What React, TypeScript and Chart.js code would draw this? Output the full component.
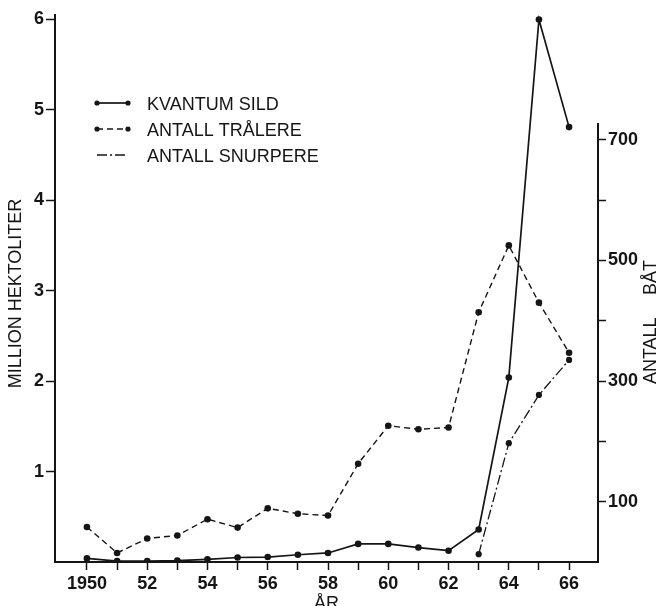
import { useEffect, useRef } from 'react';
import { Chart, registerables } from 'chart.js';

Chart.register(...registerables);

// ---- data ----
const YEARS = [1950, 1951, 1952, 1953, 1954, 1955, 1956, 1957, 1958, 1959, 1960, 1961, 1962, 1963, 1964, 1965, 1966];
const KVANTUM_SILD = [0.04, 0.01, 0.01, 0.015, 0.03, 0.05, 0.055, 0.08, 0.1, 0.2, 0.2, 0.16, 0.125, 0.36, 2.04, 6.0, 4.81];
const ANTALL_TRALERE = [58, 15, 39, 44, 71, 57, 89, 80, 77, 163, 226, 220, 223, 414, 525, 430, 347];
const SNURPERE_YEARS = [1963, 1964, 1965, 1966];
const ANTALL_SNURPERE = [13, 197, 277, 335];

const LEFT_TICKS = [1, 2, 3, 4, 5, 6];
const RIGHT_TICKS = [100, 200, 300, 400, 500, 600, 700];
const RIGHT_LABELS = [100, 300, 500, 700];
const X_LABEL_YEARS = [1950, 1952, 1954, 1956, 1958, 1960, 1962, 1964, 1966];

const SERIES_NAMES = ['KVANTUM SILD', 'ANTALL TRÅLERE', 'ANTALL SNURPERE'];
const LEFT_TITLE = 'MILLION HEKTOLITER';
const RIGHT_TITLE_WORDS = ['ANTALL', 'BÅT'];
const X_TITLE = 'ÅR';

const X_MIN = 1948.94;
const X_MAX = 1966.96;
const LEFT_MAX = 6.05;
const RIGHT_MAX = 907;
const RIGHT_AXIS_TOP = 728;

const INK = '#151515';
const FONT_FAMILY = '"Liberation Sans", Arial, sans-serif';
const TICK_FONT_FAMILY = '"Liberation Sans Narrow", "Arial Narrow", "Liberation Sans", sans-serif';

const DASHES: number[][] = [[], [6, 4], [10, 3, 2, 3]];
const WIDTHS = [1.7, 1.4, 1.3];

const overlay = {
  id: 'overlay',
  afterDraw(chart: any) {
    const { ctx, chartArea, scales } = chart;
    const y2 = scales.y2;
    const y = scales.y;
    const x = scales.x;
    ctx.save();
    // right axis line (only up to its top value)
    ctx.strokeStyle = INK;
    ctx.lineWidth = 2;
    ctx.setLineDash([]);
    ctx.beginPath();
    ctx.moveTo(y2.left, y2.getPixelForValue(0));
    ctx.lineTo(y2.left, y2.getPixelForValue(RIGHT_AXIS_TOP));
    ctx.stroke();

    // legend
    const lx0 = chartArea.left + 42;
    const lx1 = chartArea.left + 73;
    const tx = chartArea.left + 92;
    ctx.font = `18px ${FONT_FAMILY}`;
    ctx.fillStyle = INK;
    ctx.textBaseline = 'middle';
    ctx.textAlign = 'left';
    SERIES_NAMES.forEach((name, i) => {
      const ry = chartArea.top + 88 + i * 26;
      ctx.lineWidth = WIDTHS[i];
      ctx.setLineDash(DASHES[i]);
      ctx.beginPath();
      ctx.moveTo(lx0, ry);
      ctx.lineTo(lx1, ry);
      ctx.stroke();
      ctx.setLineDash([]);
      if (i < 2) {
        [lx0, lx1].forEach((px) => {
          ctx.beginPath();
          ctx.arc(px, ry, 2.6, 0, Math.PI * 2);
          ctx.fill();
        });
      }
      ctx.fillText(name, tx, ry + 2);
    });

    // left title
    ctx.save();
    ctx.translate(y.left + 16, (chartArea.top + chartArea.bottom) / 2 + 5);
    ctx.rotate(-Math.PI / 2);
    ctx.textAlign = 'center';
    ctx.textBaseline = 'middle';
    ctx.fillText(LEFT_TITLE, 0, 0);
    ctx.restore();

    // right title
    ctx.save();
    ctx.translate(y2.left + 53, y2.getPixelForValue(300) + 3);
    ctx.rotate(-Math.PI / 2);
    ctx.textAlign = 'left';
    ctx.textBaseline = 'middle';
    ctx.fillText(RIGHT_TITLE_WORDS[0], 0, 0);
    ctx.fillText(RIGHT_TITLE_WORDS[1], 89, 0);
    ctx.restore();

    // x title
    ctx.textAlign = 'center';
    ctx.textBaseline = 'alphabetic';
    ctx.fillText(X_TITLE, (chartArea.left + chartArea.right) / 2, x.bottom + 3);
    ctx.restore();
  },
};

export default function App() {
  const ref = useRef<HTMLCanvasElement>(null);

  useEffect(() => {
    const tickFont = { family: TICK_FONT_FAMILY, size: 18, weight: 'bold' as const };
    const chart = new Chart(ref.current as HTMLCanvasElement, {
      type: 'line',
      data: {
        datasets: [
          {
            label: SERIES_NAMES[0],
            data: YEARS.map((yr, i) => ({ x: yr, y: KVANTUM_SILD[i] })),
            yAxisID: 'y',
            borderColor: INK,
            backgroundColor: INK,
            borderWidth: WIDTHS[0],
            pointRadius: 3.3,
            pointBorderWidth: 0,
            tension: 0,
          },
          {
            label: SERIES_NAMES[1],
            data: YEARS.map((yr, i) => ({ x: yr, y: ANTALL_TRALERE[i] })),
            yAxisID: 'y2',
            borderColor: INK,
            backgroundColor: INK,
            borderWidth: WIDTHS[1],
            borderDash: DASHES[1],
            pointRadius: 3.3,
            pointBorderWidth: 0,
            tension: 0,
          },
          {
            label: SERIES_NAMES[2],
            data: SNURPERE_YEARS.map((yr, i) => ({ x: yr, y: ANTALL_SNURPERE[i] })),
            yAxisID: 'y2',
            borderColor: INK,
            backgroundColor: INK,
            borderWidth: WIDTHS[2],
            borderDash: DASHES[2],
            pointRadius: 3.1,
            pointBorderWidth: 0,
            tension: 0,
          },
        ],
      },
      options: {
        animation: false,
        responsive: true,
        maintainAspectRatio: false,
        layout: { padding: { top: 15, left: 0, right: 0, bottom: 0 } },
        plugins: {
          legend: { display: false },
          tooltip: { enabled: false },
        },
        scales: {
          x: {
            type: 'linear',
            min: X_MIN,
            max: X_MAX,
            afterBuildTicks: (s: any) => {
              s.ticks = YEARS.map((v) => ({ value: v }));
            },
            afterFit: (s: any) => {
              s.height = 44;
            },
            ticks: {
              autoSkip: false,
              maxRotation: 0,
              padding: 3,
              color: INK,
              font: tickFont,
              callback: (v: any) => {
                const n = Number(v);
                if (!X_LABEL_YEARS.includes(n)) return '';
                return n === X_LABEL_YEARS[0] ? String(n) : String(n % 100);
              },
            },
            grid: {
              display: true,
              drawOnChartArea: false,
              drawTicks: true,
              tickLength: 8,
              tickColor: INK,
              tickWidth: 1.5,
              color: INK,
            },
            border: { display: true, color: INK, width: 2 },
          },
          y: {
            type: 'linear',
            position: 'left',
            min: 0,
            max: LEFT_MAX,
            afterBuildTicks: (s: any) => {
              s.ticks = LEFT_TICKS.map((v) => ({ value: v }));
            },
            afterFit: (s: any) => {
              s.width = 55;
            },
            ticks: {
              padding: 2,
              color: INK,
              font: tickFont,
              callback: (v: any) => String(v),
            },
            grid: {
              display: true,
              drawOnChartArea: false,
              drawTicks: true,
              tickLength: 9,
              tickColor: INK,
              tickWidth: 1.5,
              color: INK,
            },
            border: { display: true, color: INK, width: 2 },
          },
          y2: {
            type: 'linear',
            position: 'right',
            min: 0,
            max: RIGHT_MAX,
            afterBuildTicks: (s: any) => {
              s.ticks = RIGHT_TICKS.map((v) => ({ value: v }));
            },
            afterFit: (s: any) => {
              s.width = 59;
            },
            ticks: {
              padding: 2,
              color: INK,
              font: tickFont,
              callback: (v: any) => (RIGHT_LABELS.includes(Number(v)) ? String(v) : ''),
            },
            grid: {
              display: true,
              drawOnChartArea: false,
              drawTicks: true,
              tickLength: 8,
              tickColor: INK,
              tickWidth: 1.5,
              color: INK,
            },
            border: { display: false },
          },
        },
      },
      plugins: [overlay],
    });
    return () => chart.destroy();
  }, []);

  return (
    <div style={{ position: 'fixed', left: 0, top: 0, width: 657, height: 606, background: '#fff' }}>
      <canvas ref={ref} />
    </div>
  );
}
